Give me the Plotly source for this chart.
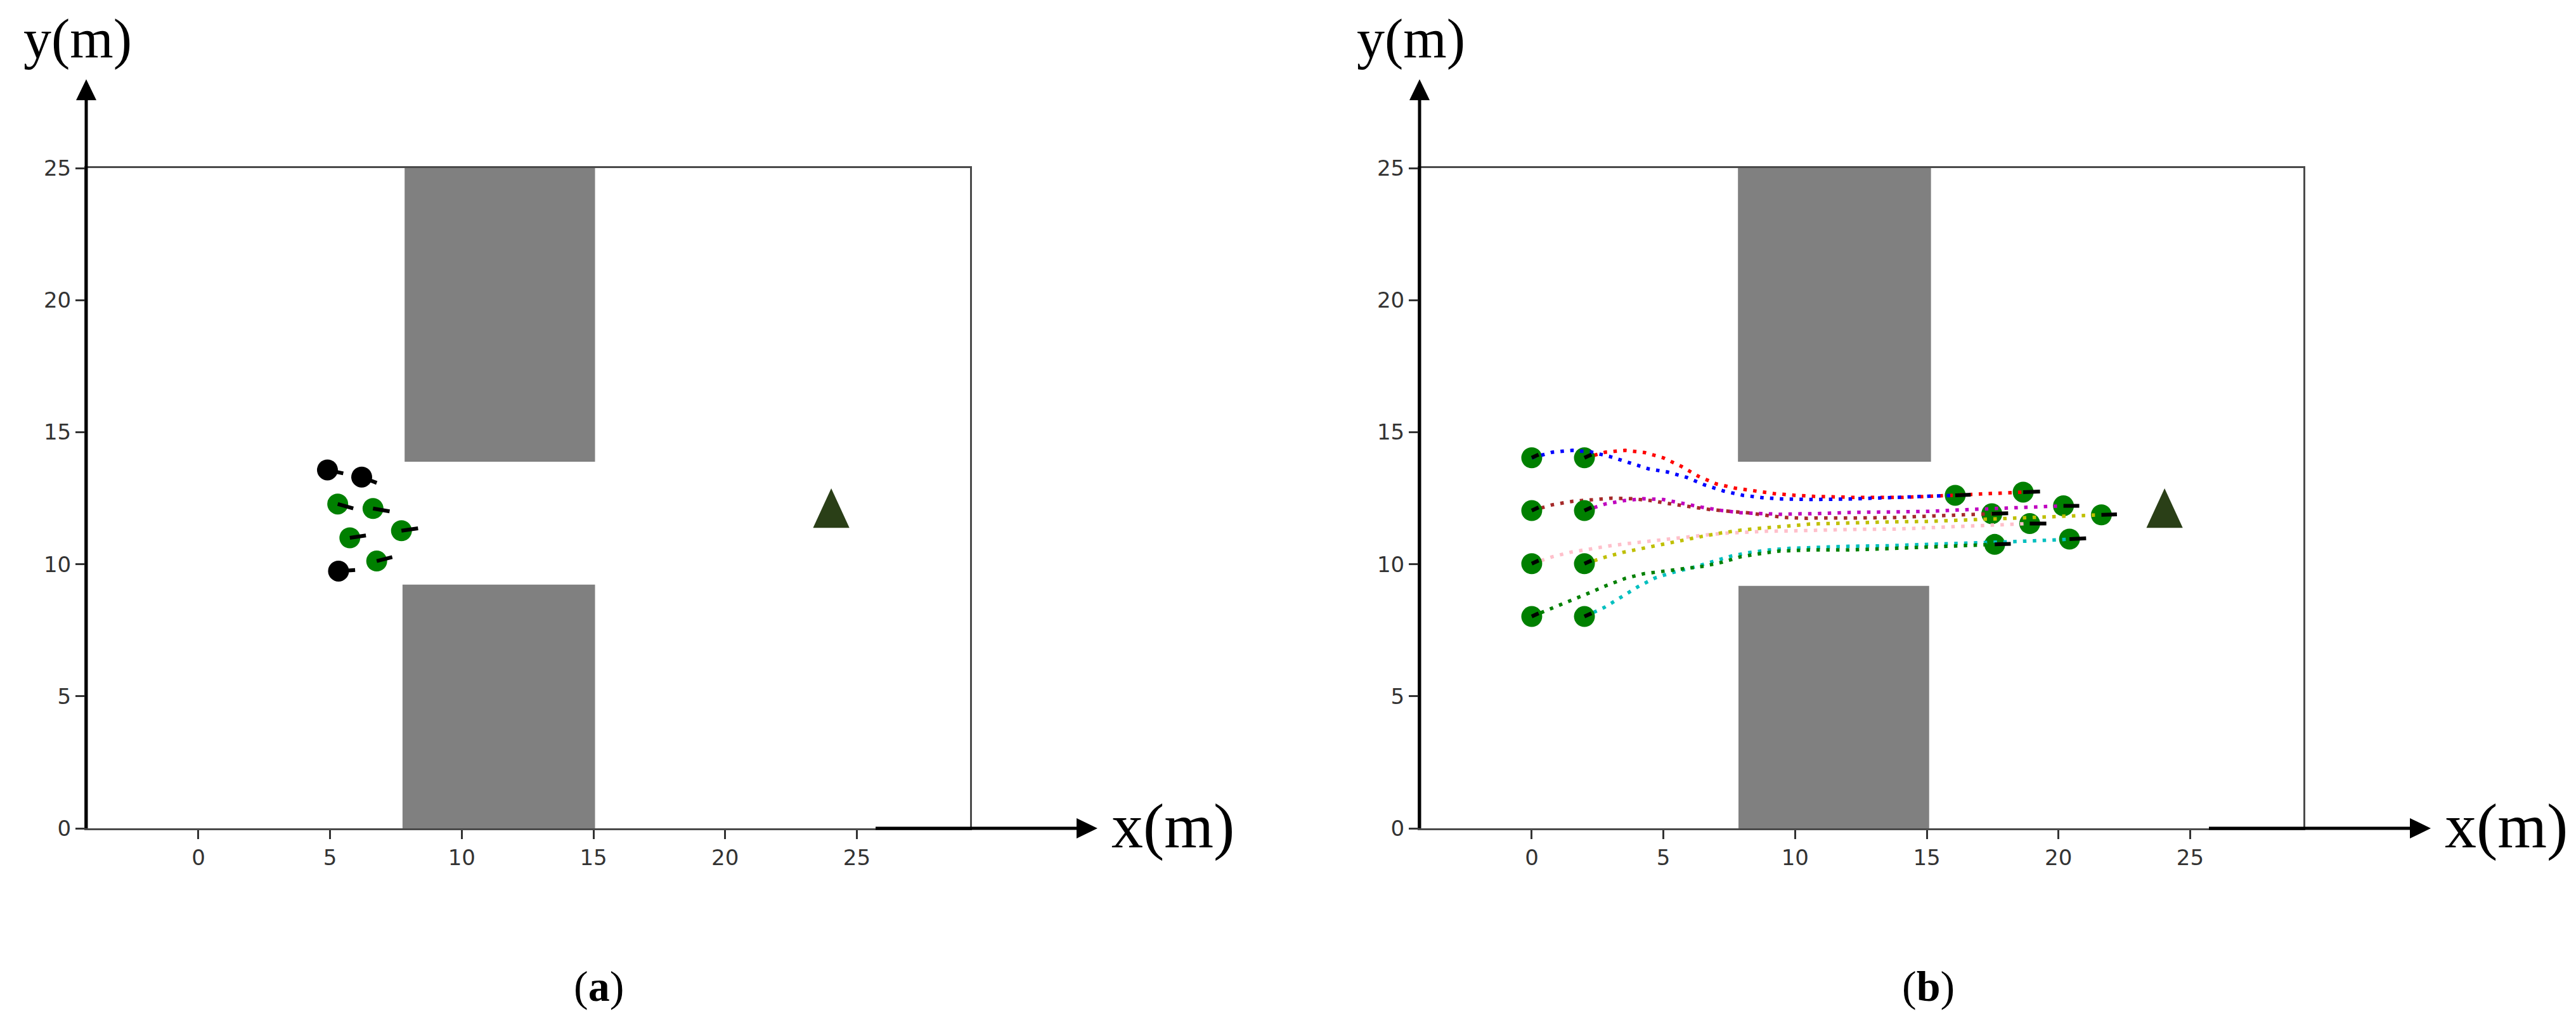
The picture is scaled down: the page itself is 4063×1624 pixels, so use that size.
import plotly.graph_objects as go
from plotly.subplots import make_subplots

W, H = 4063, 1624

x_ticks = [0, 5, 10, 15, 20, 25]
y_ticks = [0, 5, 10, 15, 20, 25]
x_range = [-4.26, 29.3]
y_range = [0, 25]

# obstacles: x0, x1, y0, y1
walls_a = [[7.83, 15.06, 13.88, 25], [7.75, 15.06, 0, 9.23]]
walls_b = [[7.83, 15.16, 13.88, 25], [7.85, 15.09, 0, 9.18]]

goal_x = [23.34, 24.03, 24.72, 23.34]
goal_y = [11.38, 12.87, 11.38, 11.38]

# panel a, agents at t0
black_x = [4.90, 6.20, 5.32]
black_y = [13.57, 13.30, 9.74]
black_tip_x = [5.50, 6.77, 5.95]
black_tip_y = [13.44, 13.08, 9.78]
green_x = [5.29, 6.63, 7.71, 5.75, 6.77]
green_y = [12.28, 12.11, 11.27, 11.00, 10.12]
green_tip_x = [5.88, 7.26, 8.34, 6.36, 7.36]
green_tip_y = [12.11, 12.00, 11.36, 11.09, 10.27]

# panel b, trajectories
red_x = [2.01, 2.79, 3.55, 4.28, 4.99, 5.69, 6.33, 7.01, 7.73, 8.49, 9.23, 9.99, 10.71, 12.23, 14.08, 15.53, 16.34, 17.46, 18.66]
red_y = [14.03, 14.24, 14.31, 14.23, 14.03, 13.7, 13.33, 13.04, 12.88, 12.77, 12.67, 12.61, 12.57, 12.53, 12.53, 12.59, 12.63, 12.67, 12.73]
blue_x = [0, 0.78, 1.54, 2.26, 2.99, 3.72, 4.44, 5.16, 5.88, 6.57, 7.29, 8.02, 8.76, 9.50, 10.63, 12.12, 13.65, 15.13, 16.08]
blue_y = [14.03, 14.24, 14.31, 14.25, 14.07, 13.83, 13.61, 13.49, 13.29, 13.0, 12.77, 12.61, 12.52, 12.47, 12.45, 12.47, 12.53, 12.59, 12.61]
brown_x = [0, 0.78, 1.54, 2.26, 3.04, 3.80, 4.52, 5.24, 6.00, 6.77, 7.54, 8.26, 8.98, 9.74, 10.47, 10.83, 12.32, 13.85, 15.29, 16.81, 17.47]
brown_y = [12.03, 12.25, 12.38, 12.45, 12.50, 12.48, 12.41, 12.29, 12.17, 12.07, 12.0, 11.94, 11.84, 11.76, 11.74, 11.75, 11.75, 11.77, 11.83, 11.88, 11.91]
magenta_x = [2.01, 2.79, 3.51, 4.23, 4.99, 5.73, 6.45, 7.17, 7.93, 8.70, 9.46, 10.23, 10.59, 12.08, 13.61, 15.05, 16.58, 18.11, 19.55, 20.19]
magenta_y = [12.03, 12.28, 12.41, 12.48, 12.45, 12.29, 12.16, 12.04, 11.95, 11.92, 11.89, 11.91, 11.91, 11.96, 11.97, 12.0, 12.07, 12.13, 12.2, 12.21]
pink_x = [0, 0.78, 1.50, 2.23, 2.99, 3.72, 4.48, 5.20, 5.96, 6.73, 7.46, 8.22, 8.94, 9.70, 10.47, 10.83, 12.32, 13.81, 15.29, 16.81, 18.31, 18.91]
pink_y = [10.02, 10.28, 10.46, 10.59, 10.70, 10.79, 10.88, 10.96, 11.05, 11.12, 11.18, 11.22, 11.25, 11.26, 11.28, 11.29, 11.32, 11.33, 11.40, 11.45, 11.53, 11.54]
yellow_x = [2.01, 2.79, 3.51, 4.23, 4.99, 5.73, 6.45, 7.17, 7.93, 8.66, 9.42, 10.15, 10.55, 12.04, 13.52, 15.01, 16.54, 18.03, 19.51, 21.0, 21.63]
yellow_y = [10.02, 10.27, 10.46, 10.61, 10.77, 10.92, 11.05, 11.18, 11.29, 11.36, 11.41, 11.48, 11.52, 11.57, 11.6, 11.62, 11.68, 11.75, 11.8, 11.86, 11.87]
dgreen_x = [0, 0.75, 1.46, 2.15, 2.83, 3.54, 4.25, 4.99, 5.73, 6.49, 7.21, 7.93, 8.66, 9.42, 10.55, 12.04, 13.52, 15.05, 16.90, 17.58]
dgreen_y = [8.02, 8.32, 8.60, 8.90, 9.19, 9.46, 9.64, 9.74, 9.82, 9.92, 10.07, 10.28, 10.40, 10.50, 10.54, 10.54, 10.59, 10.66, 10.74, 10.75]
cyan_x = [2.01, 2.75, 3.39, 4.04, 4.68, 5.40, 6.13, 6.85, 7.58, 8.30, 9.02, 9.78, 10.55, 12.04, 13.52, 15.01, 16.90, 18.39, 19.88, 20.42]
cyan_y = [8.02, 8.36, 8.75, 9.15, 9.48, 9.70, 9.88, 10.11, 10.31, 10.45, 10.54, 10.60, 10.63, 10.68, 10.70, 10.74, 10.80, 10.86, 10.92, 10.95]

start_x = [0, 2, 0, 2, 0, 2, 0, 2]
start_y = [14.03, 14.03, 12.03, 12.03, 10.02, 10.02, 8.02, 8.02]
start_tip_x = [0.26, 2.27, 0.26, 2.27, 0.26, 2.27, 0.26, 2.27]
start_tip_y = [14.15, 14.15, 12.15, 12.15, 10.14, 10.14, 8.14, 8.14]

# red, blue, brown, magenta, pink, yellow, green, cyan
end_tip_x = [19.30, 16.67, 18.09, 20.79, 19.54, 22.22, 18.19, 21.05]
end_tip_y = [12.75, 12.63, 11.93, 12.21, 11.54, 11.89, 10.77, 10.98]

path_colors = {
    "red": "#ff0000", "blue": "#0000ff", "brown": "#a52a2a", "magenta": "#bf00bf",
    "pink": "#ffc0cb", "yellow": "#bfbf00", "dgreen": "#008000", "cyan": "#00bfbf",
}


def fx(px):
    return px / W


def fy(py):
    return 1 - py / H


def agents(x, y, color):
    return go.Scatter(x=x, y=y, mode="markers", showlegend=False, hoverinfo="skip",
                      marker=dict(color=color, size=33, line=dict(width=0)))


def headings(x, y, tip_x, tip_y):
    seg_x, seg_y = [], []
    for a, b, c, d in zip(x, y, tip_x, tip_y):
        seg_x += [a, c, None]
        seg_y += [b, d, None]
    return go.Scatter(x=seg_x, y=seg_y, mode="lines", showlegend=False, hoverinfo="skip",
                      line=dict(color="black", width=6))


def path(x, y, color):
    return go.Scatter(x=x, y=y, mode="lines", showlegend=False, hoverinfo="skip",
                      line=dict(color=color, width=5.5, dash="5.5px,10px"))


fig = make_subplots(rows=1, cols=2)

# panel a
fig.add_trace(go.Scatter(x=goal_x, y=goal_y, mode="lines", fill="toself", fillcolor="#2a3f17",
                         line=dict(width=0), showlegend=False, hoverinfo="skip"), row=1, col=1)
fig.add_trace(agents(green_x, green_y, "#008000"), row=1, col=1)
fig.add_trace(agents(black_x, black_y, "black"), row=1, col=1)
fig.add_trace(headings(green_x + black_x, green_y + black_y, green_tip_x + black_tip_x, green_tip_y + black_tip_y), row=1, col=1)

# panel b
end_x = [red_x[-1], blue_x[-1], brown_x[-1], magenta_x[-1], pink_x[-1], yellow_x[-1], dgreen_x[-1], cyan_x[-1]]
end_y = [red_y[-1], blue_y[-1], brown_y[-1], magenta_y[-1], pink_y[-1], yellow_y[-1], dgreen_y[-1], cyan_y[-1]]
fig.add_trace(go.Scatter(x=goal_x, y=goal_y, mode="lines", fill="toself", fillcolor="#2a3f17",
                         line=dict(width=0), showlegend=False, hoverinfo="skip"), row=1, col=2)
fig.add_trace(agents(end_x, end_y, "#008000"), row=1, col=2)
fig.add_trace(path(pink_x, pink_y, path_colors["pink"]), row=1, col=2)
fig.add_trace(path(yellow_x, yellow_y, path_colors["yellow"]), row=1, col=2)
fig.add_trace(path(cyan_x, cyan_y, path_colors["cyan"]), row=1, col=2)
fig.add_trace(path(dgreen_x, dgreen_y, path_colors["dgreen"]), row=1, col=2)
fig.add_trace(path(magenta_x, magenta_y, path_colors["magenta"]), row=1, col=2)
fig.add_trace(path(brown_x, brown_y, path_colors["brown"]), row=1, col=2)
fig.add_trace(path(red_x, red_y, path_colors["red"]), row=1, col=2)
fig.add_trace(agents(start_x, start_y, "#008000"), row=1, col=2)
fig.add_trace(path(blue_x, blue_y, path_colors["blue"]), row=1, col=2)
fig.add_trace(headings(start_x + end_x, start_y + end_y, start_tip_x + end_tip_x, start_tip_y + end_tip_y), row=1, col=2)

axis_style = dict(showgrid=False, zeroline=False, showline=True, mirror=True, linewidth=3, linecolor="#4a4a4a",
                  ticks="outside", ticklen=14, tickwidth=3, tickcolor="#333333",
                  tickfont=dict(family="DejaVu Sans", size=34, color="#333333"))
fig.update_xaxes(range=x_range, tickvals=x_ticks, **axis_style)
fig.update_yaxes(range=y_range, tickvals=y_ticks, **axis_style)
fig.update_layout(
    xaxis=dict(domain=[fx(136), fx(1530)]),
    xaxis2=dict(domain=[fx(2239), fx(3633)]),
    yaxis=dict(domain=[fy(1306), fy(265)]),
    yaxis2=dict(domain=[fy(1306), fy(265)]),
)

shapes = []
for axes, walls in (("", walls_a), ("2", walls_b)):
    for x0, x1, y0, y1 in walls:
        shapes.append(dict(type="rect", xref="x" + axes, yref="y" + axes, x0=x0, x1=x1, y0=y0, y1=y1,
                           fillcolor="#808080", line=dict(width=0), layer="below"))

annotations = []
for off, cap, cap_x in ((0, "(<b>a</b>)", 944), (2103, "(<b>b</b>)", 3041)):
    # axis arrows
    shapes.append(dict(type="line", xref="paper", yref="paper", x0=fx(136 + off), x1=fx(136 + off),
                       y0=fy(1306), y1=fy(150), line=dict(color="black", width=5)))
    shapes.append(dict(type="path", xref="paper", yref="paper", fillcolor="black", line=dict(width=0),
                       path=f"M{fx(120 + off)},{fy(158)} L{fx(152 + off)},{fy(158)} L{fx(136 + off)},{fy(125)} Z"))
    shapes.append(dict(type="line", xref="paper", yref="paper", x0=fx(1381 + off), x1=fx(1705 + off),
                       y0=fy(1306), y1=fy(1306), line=dict(color="black", width=5)))
    shapes.append(dict(type="path", xref="paper", yref="paper", fillcolor="black", line=dict(width=0),
                       path=f"M{fx(1698 + off)},{fy(1290)} L{fx(1698 + off)},{fy(1322)} L{fx(1731 + off)},{fy(1306)} Z"))
    annotations.append(dict(text="y(m)", xref="paper", yref="paper", x=fx(122 + off), y=fy(61),
                            xanchor="center", yanchor="middle", showarrow=False,
                            font=dict(family="Liberation Serif", size=88, color="black")))
    annotations.append(dict(text="x(m)", xref="paper", yref="paper", x=fx(1850 + off), y=fy(1302),
                            xanchor="center", yanchor="middle", showarrow=False,
                            font=dict(family="Liberation Serif", size=100, color="black")))
    annotations.append(dict(text=cap, xref="paper", yref="paper", x=fx(cap_x), y=fy(1555),
                            xanchor="center", yanchor="middle", showarrow=False,
                            font=dict(family="Liberation Serif", size=68, color="black")))

fig.update_layout(width=W, height=H, margin=dict(l=0, r=0, t=0, b=0, autoexpand=False), autosize=False,
                  paper_bgcolor="white", plot_bgcolor="white", showlegend=False,
                  shapes=shapes, annotations=annotations)

fig.write_html("out.html", config={"displayModeBar": False}, post_script="document.body.style.margin='0';")
